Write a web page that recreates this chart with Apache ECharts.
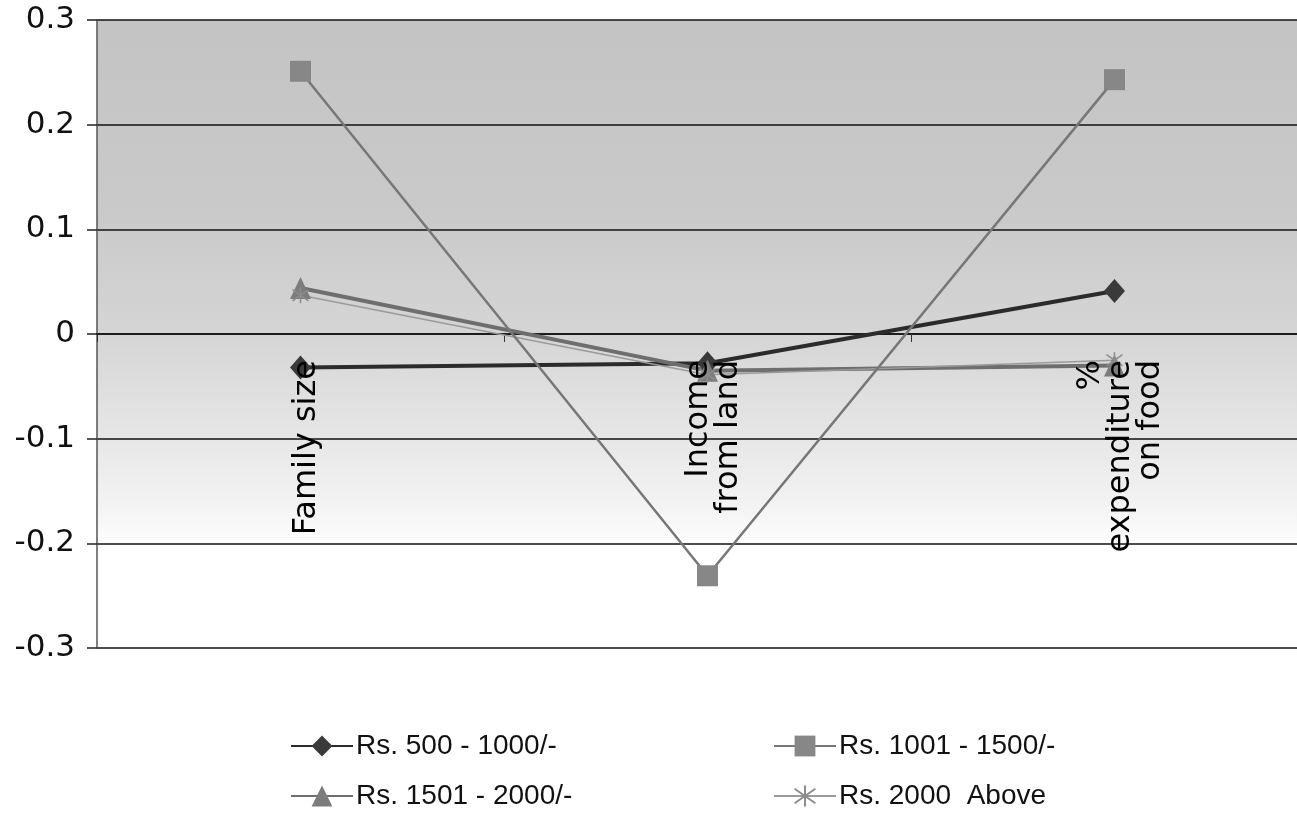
<!DOCTYPE html>
<html>
<head>
<meta charset="utf-8">
<script src="https://cdn.jsdelivr.net/npm/echarts@6/dist/echarts.min.js"></script>
<style>
  html, body { margin: 0; padding: 0; background: #ffffff; }
  #chart { width: 1297px; height: 820px; }
</style>
</head>
<body>
<div id="chart"></div>
<script>
// Factors compared across monthly income groups
const categories = ['Family size', 'Income\nfrom land', '%\nexpenditure\non food'];

const seriesNames = ['Rs. 500 - 1000/-', 'Rs. 1001 - 1500/-', 'Rs. 1501 - 2000/-', 'Rs. 2000  Above'];
const rs500to1000 = [-0.032, -0.028, 0.041];
const rs1001to1500 = [0.251, -0.231, 0.243];
const rs1501to2000 = [0.044, -0.035, -0.030];
const rs2000above = [0.037, -0.039, -0.025];

const yTicks = [-0.3, -0.2, -0.1, 0, 0.1, 0.2, 0.3];

// asterisk marker: X with a vertical stroke
const starPath = 'path://M1.5,1.5 L8.5,8.5 M8.5,1.5 L1.5,8.5 M5,0 L5,10';

const axisFont = 'DejaVu Sans';
const legendFont = '"Liberation Sans", Arial, sans-serif';

const chart = echarts.init(document.getElementById('chart'), null, { renderer: 'canvas' });

function legendAt(name, left, top) {
  return {
    data: [name],
    left: left,
    top: top,
    orient: 'horizontal',
    itemWidth: 62,
    itemHeight: 26,
    itemGap: 0,
    padding: 0,
    textStyle: { fontFamily: legendFont, fontSize: 28, color: '#111', padding: [0, 0, 0, -2] },
    selectedMode: false
  };
}

const option = {
  backgroundColor: '#ffffff',
  animation: false,
  grid: {
    left: 97,
    top: 20,
    width: 1221,
    height: 628,
    outerBoundsMode: 'none',
    containLabel: false,
    show: true,
    borderWidth: 0,
    backgroundColor: {
      type: 'linear', x: 0, y: 0, x2: 0, y2: 1,
      colorStops: [
        { offset: 0, color: '#c4c4c4' },
        { offset: 0.3, color: '#c9c9c9' },
        { offset: 0.5, color: '#d5d5d5' },
        { offset: 0.66, color: '#e6e6e6' },
        { offset: 0.78, color: '#f4f4f4' },
        { offset: 0.84, color: '#ffffff' },
        { offset: 1, color: '#ffffff' }
      ]
    }
  },
  legend: [
    legendAt(seriesNames[0], 290, 732),
    legendAt(seriesNames[1], 773, 732),
    legendAt(seriesNames[2], 290, 782),
    legendAt(seriesNames[3], 773, 782)
  ],
  xAxis: {
    type: 'category',
    data: categories,
    boundaryGap: true,
    axisLine: { show: true, onZero: true, lineStyle: { color: '#111', width: 1.5 } },
    axisTick: { show: true, length: 8, interval: 0, lineStyle: { color: '#333', width: 1 } },
    axisLabel: { show: false },
    splitLine: { show: false },
    z: 3
  },
  yAxis: {
    type: 'value',
    min: -0.3,
    max: 0.3,
    interval: 0.1,
    axisLine: { show: true, lineStyle: { color: '#555', width: 1.5 } },
    axisTick: { show: true, length: 10, lineStyle: { color: '#222', width: 1.5 } },
    axisLabel: {
      margin: 22,
      fontFamily: axisFont,
      fontSize: 31,
      color: '#111',
      formatter: function (v) {
        const r = Math.round(v * 10) / 10;
        const t = yTicks.find(function (k) { return Math.abs(k - r) < 1e-9; });
        return String(t === undefined ? r : t);
      }
    },
    splitLine: { show: true, lineStyle: { color: '#111', width: 1.5 } }
  },
  series: [
    {
      // category names hanging below the zero line
      name: 'category labels',
      type: 'scatter',
      data: categories.map(function (c) { return [c, 0]; }),
      symbolSize: 0,
      silent: true,
      z: 6,
      itemStyle: { opacity: 1 },
      label: {
        show: true,
        position: 'bottom',
        distance: 26,
        offset: [0, 6],
        rotate: 90,
        align: 'right',
        verticalAlign: 'middle',
        fontFamily: axisFont,
        fontSize: 32,
        lineHeight: 30,
        color: '#000',
        opacity: 1,
        formatter: function (p) { return p.value[0]; }
      }
    },
    {
      name: seriesNames[0],
      type: 'line',
      data: rs500to1000,
      symbol: 'diamond',
      symbolSize: [21, 24],
      lineStyle: { color: '#2b2b2b', width: 4 },
      itemStyle: { color: '#3a3a3a' },
      z: 4
    },
    {
      name: seriesNames[1],
      type: 'line',
      data: rs1001to1500,
      symbol: 'rect',
      symbolSize: 21,
      lineStyle: { color: '#777777', width: 2.5 },
      itemStyle: { color: '#878787' },
      z: 5
    },
    {
      name: seriesNames[2],
      type: 'line',
      data: rs1501to2000,
      symbol: 'triangle',
      symbolSize: [21, 22],
      lineStyle: { color: '#6e6e6e', width: 4 },
      itemStyle: { color: '#7c7c7c' },
      z: 4
    },
    {
      name: seriesNames[3],
      type: 'line',
      data: rs2000above,
      symbol: starPath,
      symbolSize: 16,
      lineStyle: { color: '#9a9a9a', width: 1.5 },
      itemStyle: { color: 'none', borderColor: '#8c8c8c', borderWidth: 1.5 },
      z: 4
    }
  ]
};

chart.setOption(option);
</script>
</body>
</html>
